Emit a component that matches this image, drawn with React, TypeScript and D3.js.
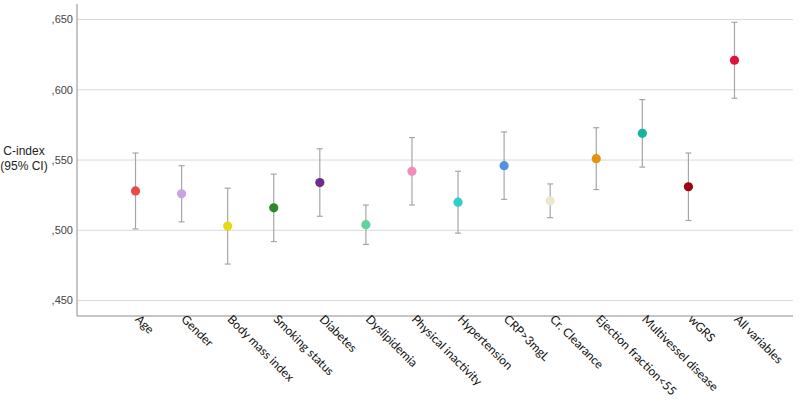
import React from "react";
import * as d3 from "d3";

const categories = ["Age", "Gender", "Body mass index", "Smoking status", "Diabetes", "Dyslipidemia", "Physical inactivity", "Hypertension", "CRP>3mgL", "Cr. Clearance", "Ejection fraction<55", "Multivessel disease", "wGRS", "All variables"];
const cIndex = [0.528, 0.526, 0.503, 0.516, 0.534, 0.504, 0.542, 0.520, 0.546, 0.521, 0.551, 0.569, 0.531, 0.621];
const lower = [0.501, 0.506, 0.476, 0.492, 0.510, 0.490, 0.518, 0.498, 0.522, 0.509, 0.529, 0.545, 0.507, 0.594];
const upper = [0.555, 0.546, 0.530, 0.540, 0.558, 0.518, 0.566, 0.542, 0.570, 0.533, 0.573, 0.593, 0.555, 0.648];
const colors = ["#e84a4c", "#c9a3e0", "#e8d81c", "#2a8a2a", "#6e2d8c", "#5ed39c", "#f58cb8", "#2ccfc9", "#5290e0", "#ece7cf", "#e8900f", "#14b4a0", "#a0000f", "#e2103c"];
const yTicks = [0.45, 0.5, 0.55, 0.6, 0.65];
const tickLabels = [",450", ",500", ",550", ",600", ",650"];

export default function App() {
  const W = 800, H = 402;
  const left = 77, right = 793, top = 4, bottom = 316;
  const x = d3.scalePoint<string>().domain(categories).range([left, right]).padding(1.27);
  const y = d3.scaleLinear().domain([0.45, 0.65]).range([300.6, 19.5]);
  const cap = 3;
  return (
    <svg width={W} height={H} style={{ position: "absolute", left: 0, top: 0, background: "#fff" }}>
      {yTicks.map((t, i) => (
        <g key={t}>
          <line x1={left} x2={right} y1={y(t)} y2={y(t)} stroke="#d9d9d9" strokeWidth={1} />
          <text x={73} y={y(t)} dy="0.35em" textAnchor="end" fontFamily="Liberation Sans, Arial, sans-serif" fontSize={11} fill="#444">{tickLabels[i]}</text>
        </g>
      ))}
      <line x1={left} x2={left} y1={top} y2={bottom} stroke="#8c8c8c" strokeWidth={1} />
      <line x1={left} x2={right} y1={bottom} y2={bottom} stroke="#8c8c8c" strokeWidth={1} />
      <text fontFamily="Liberation Sans, Arial, sans-serif" fontSize={12} fill="#222" textAnchor="middle">
        <tspan x={24} y={155}>C-index</tspan>
        <tspan x={24} y={170}>(95% CI)</tspan>
      </text>
      {categories.map((c, i) => {
        const cx = x(c)!;
        return (
          <g key={c}>
            <line x1={cx} x2={cx} y1={y(lower[i])} y2={y(upper[i])} stroke="#a6a6a6" strokeWidth={1.2} />
            <line x1={cx - cap} x2={cx + cap} y1={y(lower[i])} y2={y(lower[i])} stroke="#a6a6a6" strokeWidth={1.2} />
            <line x1={cx - cap} x2={cx + cap} y1={y(upper[i])} y2={y(upper[i])} stroke="#a6a6a6" strokeWidth={1.2} />
            <circle cx={cx} cy={y(cIndex[i])} r={4.6} fill={colors[i]} />
            <text transform={`translate(${cx - 1},${bottom + 4}) rotate(45)`} fontFamily="Lato, sans-serif" fontSize={12} fill="#111">{c}</text>
          </g>
        );
      })}
    </svg>
  );
}
